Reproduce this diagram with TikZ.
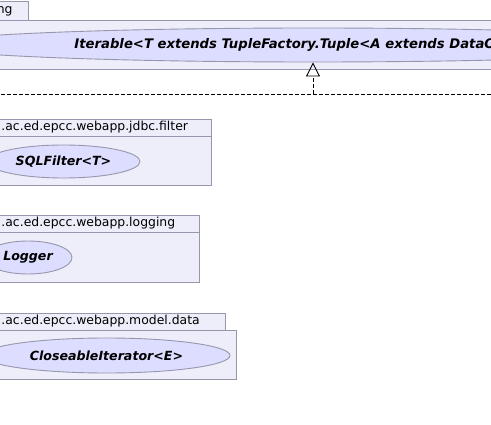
\documentclass[tikz,border=0pt]{standalone}
\usepackage{fontspec}
\setmainfont{DejaVu Sans}
\usepackage{xcolor}
\usetikzlibrary{arrows.meta,positioning,shapes.geometric}

\definecolor{pkgfill}{RGB}{238,238,251}
\definecolor{ifacefill}{RGB}{221,221,255}
\definecolor{edgegray}{RGB}{150,150,172}

\begin{document}
\begin{tikzpicture}[x=1pt,y=-1pt,>=Latex,line width=0.9pt]
\tikzstyle{pkgbox}=[draw=edgegray, fill=pkgfill, inner sep=0pt, anchor=north west]
\tikzstyle{pkgname}=[inner sep=0pt, anchor=west, font=\fontsize{12.4}{14}\selectfont]
\tikzstyle{iface}=[draw=edgegray, fill=ifacefill, ellipse, inner sep=0pt, font=\fontsize{12.6}{14}\selectfont\bfseries\itshape]
\tikzstyle{ifacetext}=[inner sep=0pt, anchor=west, font=\fontsize{13.2}{15}\selectfont\bfseries\itshape]
\useasboundingbox (0,0) rectangle (491,425);
\clip (0,0) rectangle (491,425);
% package with the iterable interface
\node[pkgbox, minimum width=88pt, minimum height=19pt] (tabIter) at (-60,1) {};
\node[pkgbox, minimum width=640pt, minimum height=49pt] (pkgIter) at (-60,20) {};
\node[pkgname, anchor=east] (nameIter) at (13,11) {ng};
\node[iface, minimum width=774pt, minimum height=34pt] (iterable) at (313,45) {};
\node[ifacetext] (iterText) at (74,45) {Iterable<T extends TupleFactory.Tuple<A extends DataO};
% filter package
\node[pkgbox, minimum width=231pt, minimum height=17pt] (tabFilter) at (-20,119) {};
\node[pkgbox, minimum width=231pt, minimum height=49pt] (pkgFilter) at (-20,136) {};
\node[pkgname] (nameFilter) at (1,127.5) {.ac.ed.epcc.webapp.jdbc.filter};
\node[iface, minimum width=153pt, minimum height=33pt] (sqlfilter) at (63.5,161.5) {SQLFilter<T>};
% logging package
\node[pkgbox, minimum width=219pt, minimum height=17pt] (tabLog) at (-20,215) {};
\node[pkgbox, minimum width=219pt, minimum height=50pt] (pkgLog) at (-20,232) {};
\node[pkgname] (nameLog) at (1,223.5) {.ac.ed.epcc.webapp.logging};
\node[iface, minimum width=88pt, minimum height=33pt] (logger) at (28,257.5) {Logger};
% model.data package
\node[pkgbox, minimum width=245pt, minimum height=17pt] (tabData) at (-20,313) {};
\node[pkgbox, minimum width=256pt, minimum height=49pt] (pkgData) at (-20,330) {};
\node[pkgname] (nameData) at (1,321.5) {.ac.ed.epcc.webapp.model.data};
\node[iface, minimum width=247pt, minimum height=35pt] (closeable) at (106.5,355.5) {CloseableIterator<E>};
% realization edge
\coordinate (joint) at (313,94);
\coordinate (leftEnd) at (-5,94);
\coordinate (rightEnd) at (500,94);
\draw[dash pattern=on 4pt off 2pt] (leftEnd) -- (rightEnd);
\draw[dash pattern=on 4pt off 2pt, -{Triangle[open, length=14pt, width=14pt]}] (joint) -- (iterable.south);
\end{tikzpicture}
\end{document}
